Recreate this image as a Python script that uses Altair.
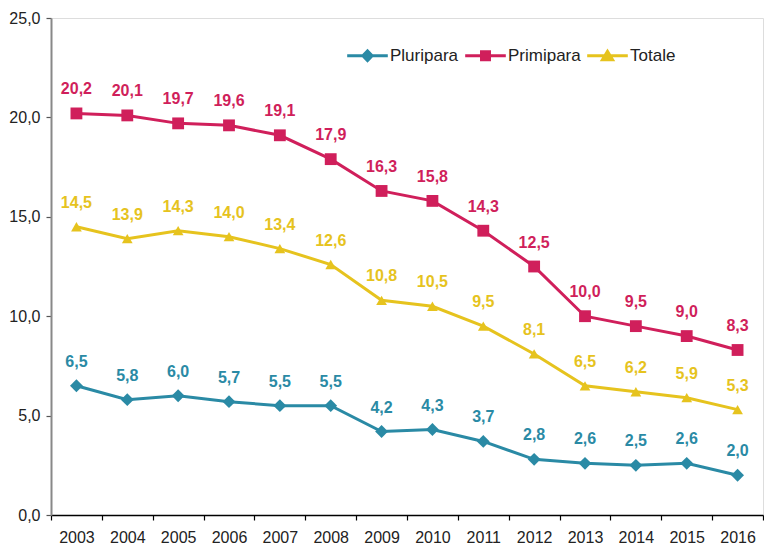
import altair as alt
import pandas as pd

anni = [str(y) for y in range(2003, 2017)]
serie = ["Pluripara", "Primipara", "Totale"]
pluripara = [6.5, 5.8, 6.0, 5.7, 5.5, 5.5, 4.2, 4.3, 3.7, 2.8, 2.6, 2.5, 2.6, 2.0]
primipara = [20.2, 20.1, 19.7, 19.6, 19.1, 17.9, 16.3, 15.8, 14.3, 12.5, 10.0, 9.5, 9.0, 8.3]
totale = [14.5, 13.9, 14.3, 14.0, 13.4, 12.6, 10.8, 10.5, 9.5, 8.1, 6.5, 6.2, 5.9, 5.3]
colori = ["#2A8AA5", "#D01F5B", "#E6C31E"]

rows = []
for nome, valori in zip(serie, [pluripara, primipara, totale]):
    for a, v in zip(anni, valori):
        rows.append({"anno": a, "serie": nome, "valore": v,
                     "label": f"{v:.1f}".replace(".", ",")})
df = pd.DataFrame(rows)

FONT = "Liberation Sans"

color_scale = alt.Scale(domain=serie, range=colori)
x_enc = alt.X("anno:O", scale=alt.Scale(type="band", paddingInner=0, paddingOuter=0),
              axis=alt.Axis(title=None, labelAngle=0, tickBand="extent", labelFontSize=16,
                            labelFont=FONT, labelColor="#222", labelPadding=9,
                            domainColor="#000", domainWidth=1.5, tickColor="#000",
                            tickSize=5, tickWidth=1.2))
y_enc = alt.Y("valore:Q", scale=alt.Scale(domain=[0, 25], nice=False),
              axis=alt.Axis(title=None, values=[0, 5, 10, 15, 20, 25], grid=False,
                            labelExpr="replace(format(datum.value, '.1f'), '.', ',')",
                            labelFontSize=16, labelFont=FONT, labelColor="#222",
                            labelPadding=6, domainColor="#888", domainWidth=2,
                            tickColor="#555", tickSize=5, tickWidth=1.2))

base = alt.Chart(df)

lines = base.mark_line(strokeWidth=3).encode(
    x=x_enc, y=y_enc,
    color=alt.Color("serie:N", scale=color_scale, legend=None))

points = base.mark_point(filled=True, opacity=1).encode(
    x=x_enc, y=y_enc,
    color=alt.Color("serie:N", scale=color_scale, legend=None),
    shape=alt.Shape("serie:N", scale=alt.Scale(domain=serie, range=["diamond", "square", "triangle-up"]), legend=None),
    size=alt.Size("serie:N", scale=alt.Scale(domain=serie, range=[165, 115, 330]), legend=None))

texts = base.mark_text(font=FONT, fontSize=16, fontWeight="bold", dy=-24, baseline="middle").encode(
    x=x_enc, y=y_enc, text="label:N",
    color=alt.Color("serie:N", scale=color_scale, legend=None))

legend_paths = [
    "M-1,-0.075H1V0.075H-1Z M0,-0.35L0.33,0L0,0.35L-0.33,0Z",
    "M-1,-0.075H1V0.075H-1Z M-0.27,-0.27H0.27V0.27H-0.27Z",
    "M-1,-0.075H1V0.075H-1Z M0,-0.36L0.38,0.27H-0.38Z",
]
leg = alt.Legend(title=None, orient="none", legendX=296, legendY=17, direction="horizontal",
                 symbolSize=1650, labelFontSize=17, labelFont=FONT, labelColor="#222",
                 labelOffset=2, columnPadding=6, padding=0, symbolStrokeWidth=0)

legend_layer = base.transform_filter("false").mark_point(filled=True, opacity=1).encode(
    x=x_enc, y=y_enc,
    color=alt.Color("serie:N", scale=alt.Scale(domain=serie, range=colori), legend=leg),
    shape=alt.Shape("serie:N", scale=alt.Scale(domain=serie, range=legend_paths), legend=leg))

chart = alt.layer(lines, points, texts, legend_layer).resolve_scale(
    color="independent", shape="independent", size="independent"
).properties(
    width=712, height=497, padding={"left": 0, "top": 2, "right": 0, "bottom": 0}
).configure_view(stroke=None).configure(background="white")

chart.save("out.html", embed_options={"renderer": "svg", "actions": False})
